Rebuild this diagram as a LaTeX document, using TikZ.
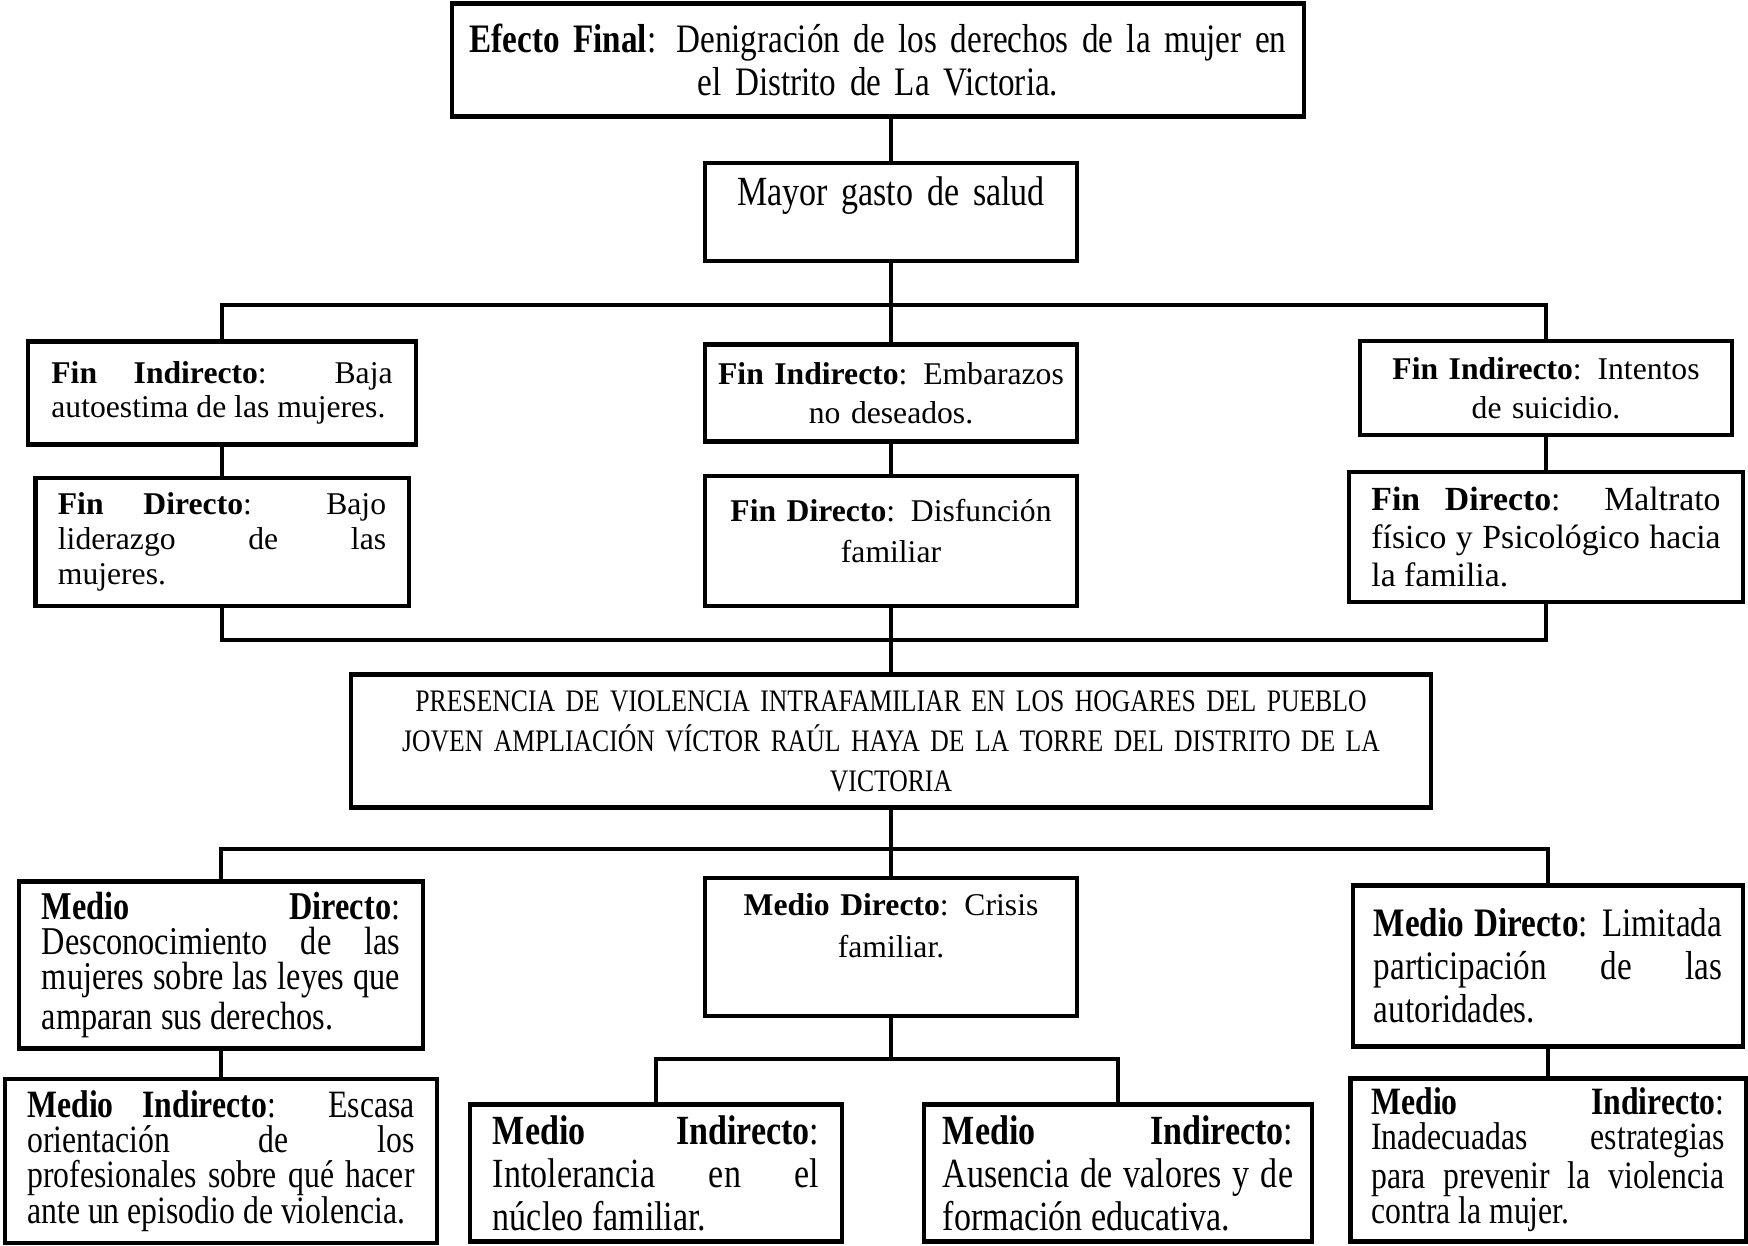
\documentclass[tikz,border=0pt]{standalone}
\usepackage{fontspec}
\setmainfont{Liberation Serif}
\newfontfamily\condserif[FakeStretch=0.82]{Liberation Serif}
\usepackage{tikz}
\lineskiplimit=-20pt
\tikzset{box/.style = {shape=rectangle,draw,line width=1.2pt,inner sep=0pt}}
\tikzset{wide/.style = {box,font=\fontsize{9}{11}\selectfont}}
\tikzset{narrow/.style = {box,font=\condserif\fontsize{11}{10}\selectfont}}
\tikzset{link/.style = {line width=1pt}}

\begin{document}
\begin{tikzpicture}[x=0.01cm,y=-0.01cm]
            \useasboundingbox (0,0) rectangle (1748,1245);

            % efecto final y fines
            \node[narrow,font=\condserif\fontsize{11.5}{12}\selectfont,minimum width=8.51cm,minimum height=1.13cm,text width=8.45cm,align=center] (ef) at (878,60) {\textbf{Efecto Final}: Denigración de los derechos de la mujer en\\ el Distrito de La Victoria.};
            \node[narrow,font=\condserif\fontsize{11.8}{12}\selectfont,minimum width=3.72cm,minimum height=0.98cm,text width=3.6cm,align=center] (gs) at (891,212) {Mayor gasto de salud\\ \mbox{}};

            \node[wide,font=\fontsize{9}{9.6}\selectfont,minimum width=3.88cm,minimum height=1.03cm,text width=3.41cm,align=justify] (fi1) at (222,393) {\textbf{Fin Indirecto}: Baja\linebreak autoestima de las mujeres.};
            \node[wide,minimum width=3.72cm,minimum height=0.97cm,text width=3.66cm,align=center] (fi2) at (891,393) {\textbf{Fin Indirecto}: Embarazos\\ no deseados.};
            \node[wide,minimum width=3.72cm,minimum height=0.94cm,text width=3.66cm,align=center] (fi3) at (1546,388) {\textbf{Fin Indirecto}: Intentos\\ de suicidio.};

            \node[wide,font=\fontsize{9}{10}\selectfont,minimum width=3.73cm,minimum height=1.28cm,text width=3.28cm,align=justify] (fd1) at (222,542) {\textbf{Fin Directo}: Bajo\linebreak liderazgo de las\linebreak mujeres.};
            \node[wide,font=\fontsize{9}{11.7}\selectfont,minimum width=3.72cm,minimum height=1.30cm,text width=3.66cm,align=center] (fd2) at (891,541) {\textbf{Fin Directo}: Disfunción\\ familiar\\[-6pt] \mbox{}};
            \node[wide,font=\fontsize{9.6}{10.8}\selectfont,minimum width=3.94cm,minimum height=1.30cm,text width=3.49cm,align=justify] (fd3) at (1546,537) {\textbf{Fin Directo}: Maltrato\linebreak físico y Psicológico hacia\linebreak la familia.};

            % problema central
            \node[narrow,font=\condserif\fontsize{8.9}{11.4}\selectfont,minimum width=10.79cm,minimum height=1.33cm,text width=10.6cm,align=center] (pr) at (891,741) {PRESENCIA DE VIOLENCIA INTRAFAMILIAR EN LOS HOGARES DEL PUEBLO\\ JOVEN AMPLIACIÓN VÍCTOR RAÚL HAYA DE LA TORRE DEL DISTRITO DE LA\\ VICTORIA};

            % medios
            \node[narrow,font=\condserif\fontsize{11.2}{10}\selectfont,minimum width=4.04cm,minimum height=1.67cm,text width=3.58cm,align=justify] (md1) at (221,965) {\textbf{Medio Directo}:\linebreak Desconocimiento de las\linebreak mujeres sobre las leyes que\linebreak amparan sus derechos.};
            \node[wide,font=\fontsize{9}{12}\selectfont,minimum width=3.72cm,minimum height=1.38cm,text width=3.66cm,align=center] (md2) at (891,947) {\textbf{Medio Directo}: Crisis\\ familiar.\\ \mbox{}};
            \node[narrow,font=\condserif\fontsize{11.5}{12.2}\selectfont,minimum width=3.90cm,minimum height=1.61cm,text width=3.48cm,align=justify] (md3) at (1548,966) {\textbf{Medio Directo}: Limitada\linebreak participación de las\linebreak autoridades.};

            \node[narrow,minimum width=4.31cm,minimum height=1.64cm,text width=3.87cm,align=justify] (mi1) at (221,1161) {\textbf{Medio Indirecto}: Escasa\linebreak orientación de los\linebreak profesionales sobre qué hacer\linebreak ante un episodio de violencia.};
            \node[narrow,font=\condserif\fontsize{11.8}{12.2}\selectfont,minimum width=3.72cm,minimum height=1.37cm,text width=3.26cm,align=justify] (mi2) at (656,1173) {\textbf{Medio Indirecto}:\linebreak Intolerancia en el\linebreak núcleo familiar.};
            \node[narrow,font=\condserif\fontsize{11.8}{12.2}\selectfont,minimum width=3.88cm,minimum height=1.37cm,text width=3.5cm,align=justify] (mi3) at (1118,1173) {\textbf{Medio Indirecto}:\linebreak Ausencia de valores y de\linebreak formación educativa.};
            \node[narrow,minimum width=3.95cm,minimum height=1.63cm,text width=3.53cm,align=justify] (mi4) at (1548,1160) {\textbf{Medio Indirecto}:\linebreak Inadecuadas estrategias\linebreak para prevenir la violencia\linebreak contra la mujer.};

            \coordinate (b1) at (891,305);
            \coordinate (b2) at (891,640);
            \coordinate (b3) at (891,849);
            \coordinate (b4) at (891,1059);

            \draw[link] (ef.south -| gs) -- (gs.north);
            \draw[link] (gs) -- (fi2);
            \draw[link] (fi1.north) |- (b1) -| (fi3.north);

            \draw[link] (fi1) -- (fd1);
            \draw[link] (fi2) -- (fd2);
            \draw[link] (fi3) -- (fd3);

            \draw[link] (fd1.south) |- (b2) -| (fd3.south);
            \draw[link] (fd2) -- (pr);

            \draw[link] (md1.north) |- (b3) -| (md3.north);
            \draw[link] (pr) -- (md2);

            \draw[link] (md1) -- (mi1);
            \draw[link] (md3) -- (mi4);
            \draw[link] (mi2.north) |- (b4) -| (mi3.north);
            \draw[link] (md2) -- (b4);
\end{tikzpicture}
\end{document}
